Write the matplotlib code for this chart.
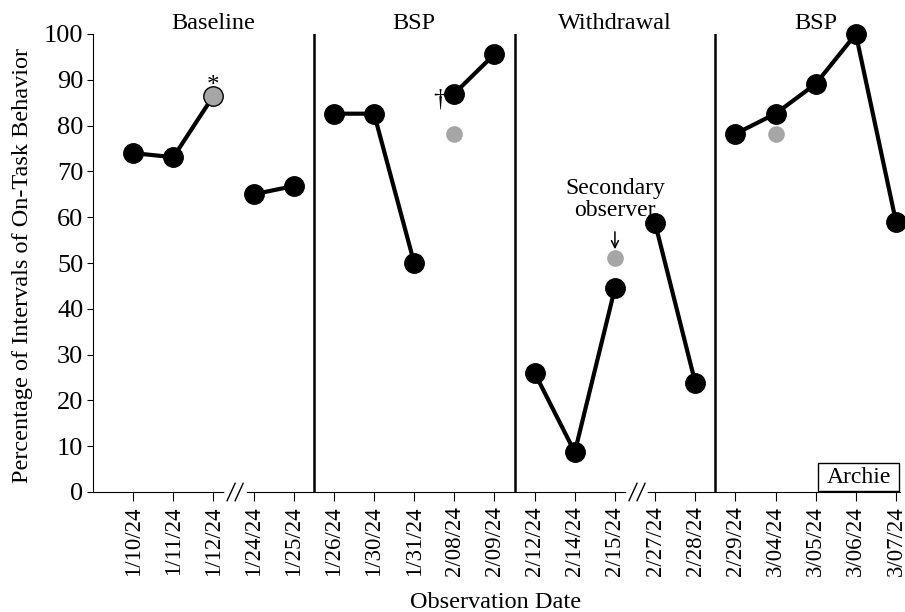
import numpy as np
import matplotlib.pyplot as plt
from matplotlib.patches import Rectangle

plt.rcParams['font.family'] = ['Liberation Serif', 'DejaVu Serif']

# observation dates (category axis)
dates = ['1/10/24', '1/11/24', '1/12/24', '1/24/24', '1/25/24',
         '1/26/24', '1/30/24', '1/31/24', '2/08/24', '2/09/24',
         '2/12/24', '2/14/24', '2/15/24', '2/27/24', '2/28/24',
         '2/29/24', '3/04/24', '3/05/24', '3/06/24', '3/07/24']

# primary observer, percent of intervals on-task
on_task = [74, 73.1, 86.5, 65, 66.8,
           82.6, 82.6, 50, 87, 95.6,
           26, 8.7, 44.5, 58.7, 23.9,
           78.2, 82.6, 89.1, 100, 59]

# connected runs (index ranges) -- gaps at phase changes / breaks
runs = [(0, 3), (3, 5), (5, 8), (8, 10), (10, 13), (13, 15), (15, 20)]

# secondary observer points
sec_idx = [8, 12, 16]
sec_vals = [78.2, 51, 78.2]

phases = ['Baseline', 'BSP', 'Withdrawal', 'BSP']
phase_lines = [5.5, 10.5, 15.5]
phase_centers = [3.0, 8.0, 13.0, 18.0]
breaks = [3.54, 13.55]

x = np.arange(1, len(dates) + 1)
y = np.array(on_task)

fig = plt.figure(figsize=(9.05, 6.12), dpi=100)
ax = fig.add_axes([93 / 905, 1 - 492 / 612, (900 - 93) / 905, (492 - 34) / 612])

for a, b in runs:
    ax.plot(x[a:b], y[a:b], color='black', lw=3, zorder=2, clip_on=False)
    xs = [i for i in range(a, b) if i != 2]
    ax.plot(x[xs], y[xs], 'o', color='black', ms=14, zorder=3, clip_on=False)

# 1/12 gray point (black edge) with asterisk
ax.plot(x[2], y[2], 'o', mfc='#a6a6a6', mec='black', mew=1, ms=14, zorder=3)
ax.text(x[2] - 0.02, 88.6, '*', ha='center', va='center', fontsize=18, zorder=4)

ax.plot(x[sec_idx], sec_vals, 'o', color='#a6a6a6', ms=12, mec='none', zorder=3)

ax.text(8.64, 85.6, '†', ha='center', va='center', fontsize=19, zorder=4)

ax.text(x[12], 63.8, 'Secondary\nobserver', ha='center', va='center',
        fontsize=17, linespacing=1.05)
ax.annotate('', xy=(x[12], 52.4), xytext=(x[12], 57.4),
            arrowprops=dict(arrowstyle='->,head_length=0.5,head_width=0.25',
                            color='black', lw=1.1))

for xl in phase_lines:
    ax.plot([xl, xl], [0, 100], color='black', lw=1.8, zorder=1)

for xc, name in zip(phase_centers, phases):
    ax.text(xc, 101.1, name, ha='center', va='baseline', fontsize=17.5)

# axis break marks
for xb in breaks:
    ax.plot([xb - 0.21, xb + 0.21], [0, 0], color='white', lw=4, zorder=4, clip_on=False)
    for dx in (-0.1, 0.1):
        ax.plot([xb + dx - 0.1, xb + dx + 0.1], [-1.9, 1.9], color='black',
                lw=1, zorder=5, clip_on=False)

# participant label box
ax.add_patch(Rectangle((18.05, 0.15), 2.02, 6.2, fc='white', ec='black',
                       lw=1, zorder=4, clip_on=False))
ax.text(19.07, 3.2, 'Archie', ha='center', va='center', fontsize=17, zorder=5)

ax.set_xlim(0, 20.1)
ax.set_ylim(0, 100)
ax.set_yticks(range(0, 101, 10))
ax.set_xticks(x)
ax.set_xticklabels(dates, rotation=90, fontsize=16.5)
ax.tick_params(axis='y', labelsize=19, length=4, pad=3, direction='out')
ax.tick_params(axis='x', length=6.5, pad=4, direction='out')
ax.spines['top'].set_visible(False)
ax.spines['right'].set_visible(False)
ax.set_ylabel('Percentage of Intervals of On-Task Behavior', fontsize=17.5)
ax.yaxis.set_label_coords(-0.074, 0.495)
ax.set_xlabel('Observation Date', fontsize=17.5)
ax.xaxis.set_label_coords(0.499, -0.218)

fig.savefig('out.png', dpi=100)
